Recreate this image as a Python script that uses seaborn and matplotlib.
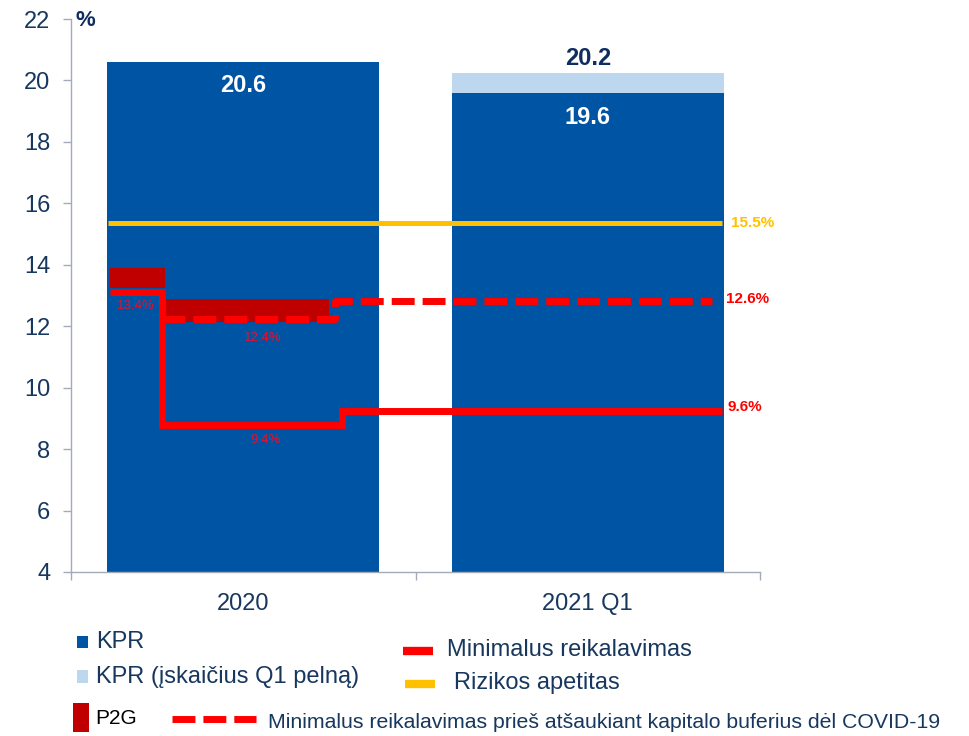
import matplotlib
matplotlib.use("Agg")
import matplotlib.pyplot as plt
import numpy as np
import seaborn as sns
from matplotlib.lines import Line2D
from matplotlib.patches import Rectangle

# data
categories = ["2020", "2021 Q1"]
kpr = [20.6, 19.6]
kpr_with_q1 = [20.6, 20.25]
kpr_labels = ["20.6", "19.6"]
kpr_q1_label = "20.2"

# step lines: breakpoints on the category axis and one value per segment
min_req_x = [-0.387, -0.236, 0.287, 1.39]
min_req_y = [13.1, 8.8, 9.25]
min_req_labels = ["13.4%", "9.4%", "9.6%"]

pre_covid_x = [-0.236, 0.266, 1.36]
pre_covid_y = [12.24, 12.83]
pre_covid_labels = ["12.4%", "12.6%"]

p2g_x = [-0.387, -0.227, 0.25]
p2g_low = [13.25, 12.15]
p2g_high = [13.9, 12.9]

risk_x = [-0.393, 1.39]
risk_y = 15.37
risk_label = "15.5%"

DARK = "#0054A4"
LIGHT = "#BDD7EE"
RED = "#FF0000"
DARKRED = "#C00000"
YELLOW = "#FFC000"
NAVY = "#17375E"
GREY = "#A3ABBA"

sns.set_style("white")
plt.rcParams["font.family"] = ["Liberation Sans", "DejaVu Sans"]

fig = plt.figure(figsize=(9.69, 7.36), dpi=100)
ax = fig.add_axes([71 / 969, 1 - 572 / 736, (760 - 71) / 969, (572 - 19) / 736])

sns.barplot(x=categories, y=kpr_with_q1, color=LIGHT, width=0.79, saturation=1,
            linewidth=0, ax=ax)
sns.barplot(x=categories, y=kpr, color=DARK, width=0.79, saturation=1,
            linewidth=0, ax=ax)

# P2G boxes on top of the requirement lines
for i in range(len(p2g_low)):
    ax.bar(p2g_x[i], p2g_high[i] - p2g_low[i], width=p2g_x[i + 1] - p2g_x[i],
           bottom=p2g_low[i], align="edge", color=DARKRED, linewidth=0, zorder=3)

ax.plot(risk_x, [risk_y, risk_y], color=YELLOW, lw=3.6, solid_capstyle="butt", zorder=4)
ax.plot(pre_covid_x, pre_covid_y + pre_covid_y[-1:], drawstyle="steps-post", color=RED,
        lw=5, linestyle=(0, (3.3, 1.15)), zorder=4)
ax.plot(min_req_x, min_req_y + min_req_y[-1:], drawstyle="steps-post", color=RED,
        lw=5, solid_capstyle="butt", solid_joinstyle="miter", zorder=5)

# bar value labels
ax.text(0, kpr[0] - 0.75, kpr_labels[0], color="white", fontsize=17, fontweight="bold",
        ha="center", va="center", zorder=6)
ax.text(1, kpr[1] - 0.79, kpr_labels[1], color="white", fontsize=17, fontweight="bold",
        ha="center", va="center", zorder=6)
ax.text(1, kpr_with_q1[1] + 0.48, kpr_q1_label, color="#0F2D5E", fontsize=17,
        fontweight="bold", ha="center", va="center", zorder=6)

# labels inside the first bar
small_red = "#E8102A"
ax.annotate(min_req_labels[0], ((min_req_x[0] + min_req_x[1]) / 2, min_req_y[0]),
            xytext=(0, -10), textcoords="offset points", ha="center", va="center",
            fontsize=9.5, color=small_red, zorder=6)
ax.annotate(pre_covid_labels[0], (0.057, pre_covid_y[0]),
            xytext=(0, -14), textcoords="offset points", ha="center", va="center",
            fontsize=9.5, color=small_red, zorder=6)
ax.annotate(min_req_labels[1], (0.066, min_req_y[1]),
            xytext=(0, -11), textcoords="offset points", ha="center", va="center",
            fontsize=9.5, color=small_red, zorder=6)

# labels to the right of the lines
ax.text(1.415, risk_y, risk_label, color=YELLOW, fontsize=11, fontweight="bold",
        va="center", ha="left")
ax.text(1.40, pre_covid_y[-1] + 0.05, pre_covid_labels[1], color=RED, fontsize=11,
        fontweight="bold", va="center", ha="left")
ax.text(1.405, min_req_y[-1] + 0.12, min_req_labels[2], color=RED, fontsize=11,
        fontweight="bold", va="center", ha="left")

# axes
ax.set_xlim(-0.5, 1.5)
ax.set_ylim(4, 22)
ax.set_yticks(np.arange(4, 23, 2))
ax.set_xticks([0, 1])
ax.set_xticklabels(categories)
ax.set_xticks([-0.5, 0.5, 1.5], minor=True)
ax.tick_params(axis="x", which="major", length=0, pad=15, labelsize=17, labelcolor=NAVY)
ax.tick_params(axis="x", which="minor", length=6, width=1, color=GREY, direction="out",
               bottom=True)
ax.tick_params(axis="y", length=6, width=1, color=GREY, direction="out", left=True,
               pad=9, labelsize=17, labelcolor=NAVY)
for side in ["top", "right"]:
    ax.spines[side].set_visible(False)
for side in ["left", "bottom"]:
    ax.spines[side].set_color(GREY)
    ax.spines[side].set_linewidth(1)
ax.set_xlabel("")
ax.set_ylabel("")
ax.text(75 / 969, 1 - 20 / 736, "%", transform=fig.transFigure, fontsize=16,
        fontweight="bold", color="#0F2D5E", va="center", ha="left")


# legend drawn in figure pixels
def fx(px):
    return px / 969


def fy(py):
    return 1 - py / 736


def box(x0, y0, x1, y1, color):
    fig.patches.append(Rectangle((fx(x0), fy(y1)), fx(x1) - fx(x0), fy(y0) - fy(y1),
                                 transform=fig.transFigure, color=color, lw=0))


def label(px, py, s, size=17, color=NAVY):
    fig.text(fx(px), fy(py), s, fontsize=size, color=color, va="center", ha="left")


box(77, 636, 88, 648, DARK)
label(96, 642, "KPR")
box(77, 670, 88, 683, LIGHT)
label(96, 677, "KPR (įskaičius Q1 pelną)")
box(73, 703, 89, 732, DARKRED)
label(95, 718, "P2G", size=15, color="black")

fig.add_artist(Line2D([fx(403), fx(433)], [fy(651), fy(651)], color=RED, lw=6,
                      solid_capstyle="butt", transform=fig.transFigure))
label(447, 650, "Minimalus reikalavimas")
fig.add_artist(Line2D([fx(405), fx(435)], [fy(684), fy(684)], color=YELLOW, lw=6,
                      solid_capstyle="butt", transform=fig.transFigure))
label(454, 683, "Rizikos apetitas")
fig.add_artist(Line2D([fx(172), fx(256)], [fy(719), fy(719)], color=RED, lw=5,
                      linestyle=(0, (3.3, 1.15)), transform=fig.transFigure))
label(268, 722, "Minimalus reikalavimas prieš atšaukiant kapitalo buferius dėl COVID-19",
      size=15.3)

fig.savefig("out.png", dpi=100)
